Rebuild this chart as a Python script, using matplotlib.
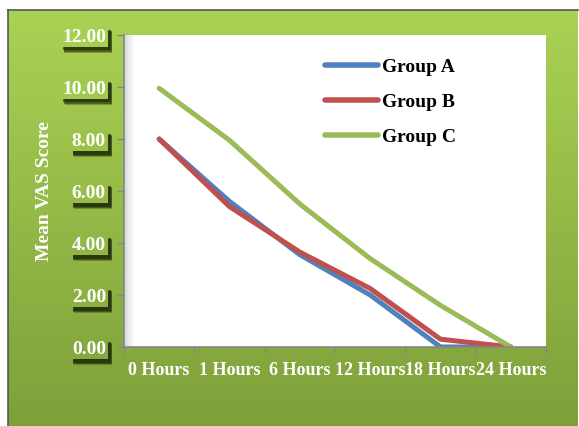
import numpy as np
import matplotlib
matplotlib.use('Agg')
import matplotlib.pyplot as plt
import matplotlib.patheffects as pe
from matplotlib.ticker import FixedLocator, FormatStrFormatter, NullFormatter

hours = ['0 Hours', '1 Hours', '6 Hours', '12 Hours', '18 Hours', '24 Hours']
group_a = [8.0, 5.6, 3.55, 2.0, 0.0, 0.0]
group_b = [8.0, 5.4, 3.65, 2.25, 0.3, 0.0]
group_c = [9.95, 7.95, 5.5, 3.4, 1.6, 0.0]
y_ticks = [0, 2, 4, 6, 8, 10, 12]

plt.rcParams['font.family'] = ['Liberation Serif', 'DejaVu Serif']

W, H = 579, 426
fig = plt.figure(figsize=(W / 100, H / 100), dpi=100)
fig.patch.set_facecolor('white')

top_rgb = np.array([170, 210, 84]) / 255
bot_rgb = np.array([126, 160, 58]) / 255

def bg_color(y_px):
    # vertical gradient, y_px measured from the top of the figure
    t = np.clip((y_px - 10) / (H - 10), 0, 1)
    return tuple(top_rgb * (1 - t) + bot_rgb * t)

# green panel behind everything
bg = fig.add_axes([8 / W, 0, (W - 9) / W, 1 - 10 / H])
grad = np.linspace(0, 1, 256)[:, None, None]
img = top_rgb * (1 - grad) + bot_rgb * grad
bg.imshow(img, aspect='auto', extent=(0, 1, 0, 1))
bg.set_xticks([])
bg.set_yticks([])
for side in ['right', 'bottom']:
    bg.spines[side].set_visible(False)
for side in ['left', 'top']:
    bg.spines[side].set_color('#555555')
    bg.spines[side].set_linewidth(1.2)
bg.set_zorder(0)

ax = fig.add_axes([124 / W, 1 - 347 / H, 422 / W, 312 / H])
ax.set_zorder(1)
ax.set_facecolor('white')

x = np.arange(len(hours))
ax.plot(x, group_a, color='#4F81BD', lw=3.6, label='Group A',
        solid_joinstyle='round', solid_capstyle='round')
ax.plot(x, group_b, color='#C0504D', lw=3.6, label='Group B',
        solid_joinstyle='round', solid_capstyle='round')
ax.plot(x, group_c, color='#9BBB59', lw=3.6, label='Group C',
        solid_joinstyle='round', solid_capstyle='round')

# soft shadow along the inner left edge
shade = np.ones((1, 64, 4))
shade[..., :3] = 0.55
shade[..., 3] = np.linspace(0.35, 0, 64)
ax.imshow(shade, aspect='auto', extent=(0, 0.025, 0, 1),
          transform=ax.transAxes, zorder=0)

ax.set_xlim(-0.5, len(hours) - 0.5)
ax.set_ylim(0, 12)

ax.xaxis.set_major_locator(FixedLocator(np.arange(-0.5, len(hours), 1)))
ax.xaxis.set_major_formatter(NullFormatter())
ax.xaxis.set_minor_locator(FixedLocator(x))
ax.set_xticklabels(hours, minor=True, fontweight='bold')
ax.tick_params(axis='x', which='major', length=5, width=1, color='#868686', direction='out')
ax.tick_params(axis='x', which='minor', length=0, pad=11, labelsize=13, labelcolor='white')

ax.set_yticks(y_ticks)
ax.yaxis.set_major_formatter(FormatStrFormatter('%.2f'))
ax.tick_params(axis='y', length=5, width=1, color='#868686', pad=8,
               labelsize=14, labelcolor='white')

for side in ['top', 'right']:
    ax.spines[side].set_visible(False)
for side in ['left', 'bottom']:
    ax.spines[side].set_color('#868686')
    ax.spines[side].set_linewidth(1.2)

ax.set_ylabel('Mean VAS Score', fontsize=14, color='white', fontweight='bold')
ax.yaxis.set_label_coords(-0.168, 0.5)

fig.canvas.draw()
for lbl in ax.get_yticklabels():
    yv = lbl.get_position()[1]
    y_px = 347 - yv * 26
    lbl.set_fontweight('bold')
    lbl.set_bbox(dict(boxstyle='square,pad=0.1', fc=bg_color(y_px), ec='none'))
    lbl.get_bbox_patch().set_path_effects([
        pe.SimplePatchShadow(offset=(3.2, -3.8), shadow_rgbFace='#2a3a0c', alpha=0.35),
        pe.SimplePatchShadow(offset=(2.6, -3.0), shadow_rgbFace='#1f2b08', alpha=0.5),
        pe.SimplePatchShadow(offset=(2.0, -2.2), shadow_rgbFace='#1a2406', alpha=0.6),
        pe.Normal()])

leg = ax.legend(loc='upper left', bbox_to_anchor=(325 / W, 1 - 58 / H),
                bbox_transform=fig.transFigure, frameon=False,
                prop={'size': 14, 'weight': 'bold'},
                handlelength=2.75, handletextpad=0.2, labelspacing=0.9,
                borderpad=0, borderaxespad=0)
for line in leg.get_lines():
    line.set_linewidth(4)
    line.set_solid_capstyle('round')

fig.savefig('out.png', dpi=100)
